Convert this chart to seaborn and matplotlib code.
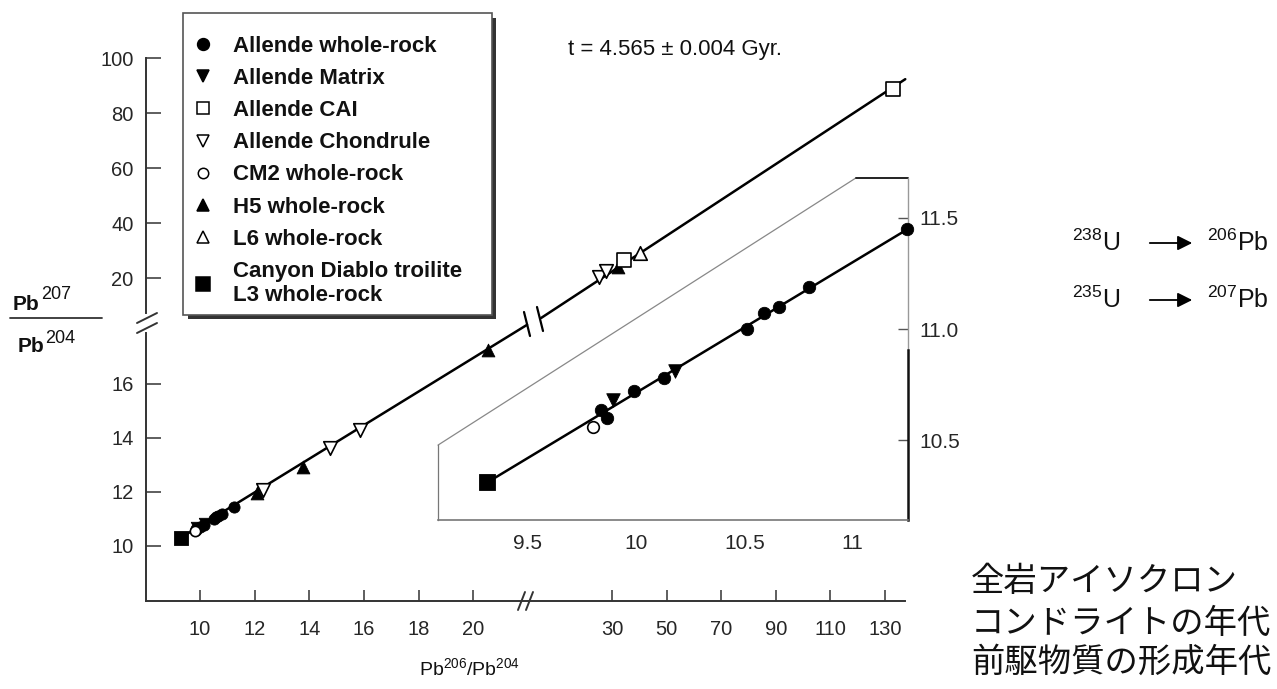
import matplotlib
matplotlib.use("Agg")
import matplotlib.pyplot as plt
from matplotlib.lines import Line2D
from matplotlib.patches import FancyArrowPatch, Rectangle
import seaborn as sns

# ---------------- data ----------------
# Allende whole-rock (filled circles)
awr_x = [9.84, 9.865, 9.99, 10.13, 10.51, 10.59, 10.66, 10.80, 11.25]
awr_y = [10.635, 10.60, 10.72, 10.78, 11.00, 11.07, 11.10, 11.19, 11.45]
# Allende matrix (filled down triangles)
mat_x = [9.895, 10.18]
mat_y = [10.68, 10.81]
# CM2 whole-rock (open circle)
cm2_x = [9.80]
cm2_y = [10.56]
# Canyon Diablo troilite (filled square)
cdt_x = [9.31]
cdt_y = [10.31]
# H5 whole-rock, low part of the main plot (filled triangles)
h5_lo_x = [12.07, 13.78, 20.53]
h5_lo_y = [11.95, 12.94, 17.26]
# Allende chondrules, low part (open down triangles)
chd_lo_x = [12.31, 14.75, 15.85]
chd_lo_y = [12.07, 13.62, 14.30]
# high part of the main plot
chd_hi_x = [25.2, 27.8]
chd_hi_y = [20.4, 22.5]
h5_hi_x = [32.2]
h5_hi_y = [24.0]
cai_x = [34.4, 133.0]
cai_y = [26.5, 88.6]
l6_x = [40.3]
l6_y = [29.1]
# isochron line pieces
iso_lo_x = [9.31, 21.96]
iso_lo_y = [10.31, 18.19]
iso_hi_x = [4.0, 137.4]
iso_hi_y = [5.45, 92.3]
iso_in_x = [9.308, 11.252]
iso_in_y = [10.306, 11.449]

# tick values
lo_xticks = [10, 12, 14, 16, 18, 20]
lo_yticks = [10, 12, 14, 16]
hi_xticks = [30, 50, 70, 90, 110, 130]
hi_yticks = [20, 40, 60, 80, 100]
in_xticks = [9.5, 10, 10.5, 11]
in_xlabels = ["9.5", "10", "10.5", "11"]
in_yticks = [10.5, 11.0, 11.5]
in_ylabels = ["10.5", "11.0", "11.5"]

legend_labels = ["Allende whole-rock", "Allende Matrix", "Allende CAI",
                 "Allende Chondrule", "CM2 whole-rock", "H5 whole-rock",
                 "L6 whole-rock", "Canyon Diablo troilite\nL3 whole-rock"]

# ---------------- style ----------------
sns.set_theme(style="white")
plt.rcParams["font.family"] = ["Liberation Sans", "Noto Sans CJK JP", "DejaVu Sans"]
plt.rcParams["mathtext.fontset"] = "custom"
plt.rcParams["mathtext.rm"] = "Liberation Sans"
plt.rcParams["mathtext.it"] = "Liberation Sans:italic"
plt.rcParams["mathtext.bf"] = "Liberation Sans:bold"
plt.rcParams["text.color"] = "#111111"

W, H = 1277, 689
fig = plt.figure(figsize=(W / 100, H / 100), dpi=100)


def fr(x0, y0, x1, y1):
    return [x0 / W, 1 - y1 / H, (x1 - x0) / W, (y1 - y0) / H]


def fx(px):
    return px / W


def fy(py):
    return 1 - py / H


def fline(x0, y0, x1, y1, **kw):
    fig.add_artist(Line2D([fx(x0), fx(x1)], [fy(y0), fy(y1)],
                          transform=fig.transFigure, **kw))


ax1 = fig.add_axes(fr(146, 58, 905, 601))
ax2 = fig.add_axes(fr(146, 58, 905, 601))
ax2.patch.set_visible(False)
ax1.set_xlim(8.026, 35.78)
ax1.set_ylim(7.963, 28.07)
ax2.set_xlim(-140.7, 137.3)
ax2.set_ylim(-97.45, 100)

spine_c = "#333333"
for a in (ax1, ax2):
    for s in a.spines.values():
        s.set_visible(False)
        s.set_color(spine_c)
        s.set_linewidth(1.4)
ax1.spines["left"].set_visible(True)
ax1.spines["bottom"].set_visible(True)
ax1.spines["left"].set_bounds(7.963, 17.89)
ax2.spines["left"].set_visible(True)
ax2.spines["left"].set_bounds(7.27, 100)

ax1.set_xticks(lo_xticks)
ax1.set_yticks(lo_yticks)
ax2.set_xticks(hi_xticks)
ax2.set_yticks(hi_yticks)
for a in (ax1, ax2):
    a.tick_params(axis="x", direction="in", length=8, width=1.1, color=spine_c,
                  labelsize=14.5, pad=14, bottom=True)
    a.tick_params(axis="y", direction="in", length=11, width=1.1, color=spine_c,
                  labelsize=14.5, pad=9, left=True)
    a.set_xlabel("")
    a.set_ylabel("")
    a.grid(False)

# isochron
sns.lineplot(x=iso_lo_x, y=iso_lo_y, color="black", lw=1.8, ax=ax1, sort=False, zorder=2)
sns.lineplot(x=iso_hi_x, y=iso_hi_y, color="black", lw=1.8, ax=ax2, sort=False, zorder=2)
for l in ax2.lines:
    l.set_clip_on(False)


def filled(ax, x, y, m, s):
    sns.scatterplot(x=x, y=y, marker=m, s=s, facecolor="black", edgecolor="black",
                    linewidth=0.6, ax=ax, zorder=3, clip_on=False)


def opened(ax, x, y, m, s):
    sns.scatterplot(x=x, y=y, marker=m, s=s, facecolor="white", edgecolor="black",
                    linewidth=1.2, ax=ax, zorder=4, clip_on=False)


# low part
filled(ax1, cdt_x, cdt_y, "s", 110)
opened(ax1, cm2_x, cm2_y, "o", 55)
filled(ax1, awr_x, awr_y, "o", 65)
filled(ax1, mat_x, mat_y, "v", 80)
filled(ax1, h5_lo_x, h5_lo_y, "^", 85)
opened(ax1, chd_lo_x, chd_lo_y, "v", 95)
# high part
opened(ax2, chd_hi_x, chd_hi_y, "v", 95)
filled(ax2, h5_hi_x, h5_hi_y, "^", 85)
opened(ax2, cai_x, cai_y, "s", 95)
opened(ax2, l6_x, l6_y, "^", 95)

# break marks
fline(137, 323, 157, 313, color=spine_c, lw=1.4)
fline(137, 333, 157, 323, color=spine_c, lw=1.4)
fline(518, 610, 525, 592, color=spine_c, lw=1.4)
fline(526, 610, 533, 592, color=spine_c, lw=1.4)
fline(524, 312, 530, 336, color="black", lw=1.6)
fline(537, 307, 543, 331, color="black", lw=1.6)

# ---------------- inset ----------------
ax3 = fig.add_axes(fr(438, 178, 908, 520))
ax3.patch.set_visible(False)
ax3.set_xlim(9.086, 11.255)
ax3.set_ylim(10.14, 11.68)
for s in ax3.spines.values():
    s.set_color("#222222")
    s.set_linewidth(1.4)
ax3.spines["top"].set_visible(False)
ax3.spines["left"].set_bounds(10.14, 10.478)
ax3.spines["left"].set_color("#777777")
ax3.spines["left"].set_linewidth(0.9)
ax3.spines["bottom"].set_color("#777777")
ax3.spines["bottom"].set_linewidth(1.2)
ax3.spines["right"].set_bounds(10.14, 10.905)
ax3.spines["right"].set_linewidth(1.8)
ax3.spines["right"].set_color("#111111")
ax3.plot([0, 0.889], [0.219, 1.0], transform=ax3.transAxes, color="#888888", lw=0.9, clip_on=False)
ax3.plot([0.889, 1.0], [1.0, 1.0], transform=ax3.transAxes, color="#222222", lw=1.4, clip_on=False)
ax3.plot([1.0, 1.0], [1.0, 0.497], transform=ax3.transAxes, color="#999999", lw=1.0, clip_on=False)
ax3.set_xticks(in_xticks)
ax3.set_xticklabels(in_xlabels)
ax3.set_yticks(in_yticks)
ax3.set_yticklabels(in_ylabels)
ax3.yaxis.tick_right()
ax3.tick_params(axis="x", direction="in", length=7, width=1.0, color="#555555",
                labelsize=15, pad=10)
ax3.tick_params(axis="y", direction="in", length=7, width=1.0, color="#555555",
                labelsize=15, pad=8, left=False, right=True)
ax3.grid(False)

sns.lineplot(x=iso_in_x, y=iso_in_y, color="black", lw=1.8, ax=ax3, sort=False, zorder=2)
filled(ax3, cdt_x, cdt_y, "s", 140)
opened(ax3, cm2_x, cm2_y, "o", 70)
filled(ax3, awr_x, awr_y, "o", 80)
filled(ax3, mat_x, mat_y, "v", 95)
ax3.set_xlabel("")
ax3.set_ylabel("")

# ---------------- legend ----------------
fig.add_artist(Rectangle((fx(188), fy(319)), fx(496) - fx(188), fy(18) - fy(319),
                         transform=fig.transFigure, facecolor="#333333",
                         edgecolor="none", zorder=2))
fig.add_artist(Rectangle((fx(183), fy(315)), fx(492) - fx(183), fy(13) - fy(315),
                         transform=fig.transFigure, facecolor="white",
                         edgecolor="#555555", lw=1.2, zorder=3))


def h(m, filled_m, ms):
    return Line2D([], [], ls="none", marker=m, ms=ms, mec="black",
                  mfc="black" if filled_m else "white", mew=1.1)


handles = [h("o", True, 8.5), h("v", True, 9), h("s", False, 8.5), h("v", False, 8.5),
           h("o", False, 7.5), h("^", True, 9), h("^", False, 9), h("s", True, 10)]
leg = fig.legend(handles, legend_labels, loc="upper left",
                 bbox_to_anchor=(fx(196), fy(36)), bbox_transform=fig.transFigure,
                 frameon=False, prop={"weight": "bold", "size": 16},
                 handlelength=0.6, handletextpad=1.05, borderpad=0,
                 labelspacing=0.5, borderaxespad=0)
leg.set_zorder(5)

# ---------------- texts ----------------
fig.text(fx(675), fy(50), "t = 4.565 ± 0.004 Gyr.", ha="center", va="center", fontsize=16)
# y label as a fraction
fig.text(fx(13), fy(310), "Pb", ha="left", va="baseline", fontsize=15, weight="bold")
fig.text(fx(41), fy(299), "207", ha="left", va="baseline", fontsize=13)
fline(10, 318, 102, 318, color="#333333", lw=1.3)
fig.text(fx(18), fy(352), "Pb", ha="left", va="baseline", fontsize=15, weight="bold")
fig.text(fx(45), fy(343), "204", ha="left", va="baseline", fontsize=13)
fig.text(fx(470), fy(668), r"Pb$^{206}$/Pb$^{204}$", ha="center", va="center", fontsize=14)

for yy, lab_u, lab_pb in [(243, r"$^{238}$U", r"$^{206}$Pb"), (300, r"$^{235}$U", r"$^{207}$Pb")]:
    fig.text(fx(1072), fy(yy), lab_u, ha="left", va="center", fontsize=18)
    fig.add_artist(FancyArrowPatch((fx(1147), fy(yy)), (fx(1195), fy(yy)),
                                   transform=fig.transFigure, arrowstyle="-|>",
                                   mutation_scale=22, color="black", lw=1.3))
    fig.text(fx(1207), fy(yy), lab_pb, ha="left", va="center", fontsize=18)

jp_lines = ["全岩アイソクロン", "コンドライトの年代", "前駆物質の形成年代"]
for yy, t in zip([582, 623, 662], jp_lines):
    fig.text(fx(971), fy(yy), t, ha="left", va="center", fontsize=24,
             family=["Noto Sans CJK JP", "DejaVu Sans"])

fig.savefig("out.png", dpi=100, facecolor="white")
